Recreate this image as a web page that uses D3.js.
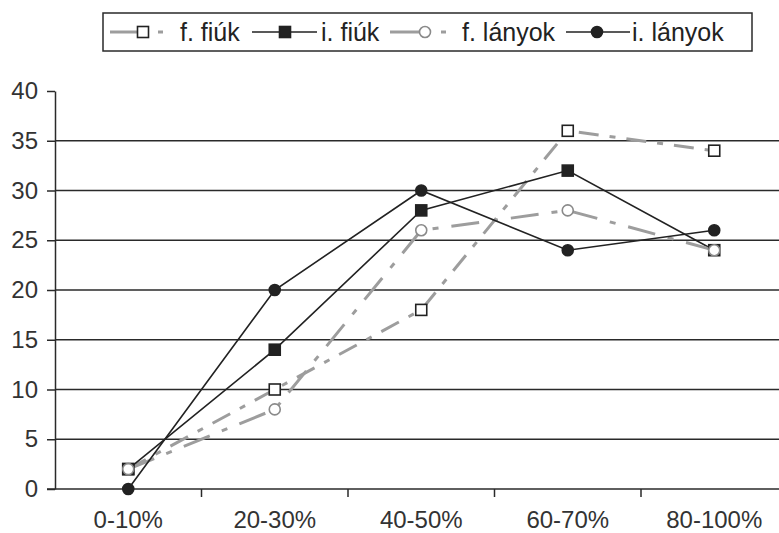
<!DOCTYPE html>
<html>
<head>
<meta charset="utf-8">
<script src="https://cdn.jsdelivr.net/npm/d3@7"></script>
<style>
  html, body { margin: 0; padding: 0; background: #fff; }
  svg { display: block; font-family: "Liberation Sans", Arial, sans-serif; }
</style>
</head>
<body>
<svg id="chart" width="779" height="533"></svg>
<script>
// Categories (score bands) and values per group
const categories = ["0-10%", "20-30%", "40-50%", "60-70%", "80-100%"];
const fFiuk    = [2, 10, 18, 36, 34];
const iFiuk    = [2, 14, 28, 32, 24];
const fLanyok  = [2, 8, 26, 28, 24];
const iLanyok  = [0, 20, 30, 24, 26];
const yTicks   = [0, 5, 10, 15, 20, 25, 30, 35, 40];
const seriesNames = ["f. fiúk", "i. fiúk", "f. lányok", "i. lányok"];

const series = [
  { name: seriesNames[0], values: fFiuk,   color: "#9d9d9d", width: 3,   dash: "20,11,6,11", marker: "square", fill: "#fff", mstroke: "#222" },
  { name: seriesNames[1], values: iFiuk,   color: "#222",    width: 1.6, dash: null,          marker: "square", fill: "#222", mstroke: "#222" },
  { name: seriesNames[2], values: fLanyok, color: "#9d9d9d", width: 3,   dash: "28,13,6,13", marker: "circle", fill: "#fff", mstroke: "#8a8a8a" },
  { name: seriesNames[3], values: iLanyok, color: "#222",    width: 1.6, dash: null,          marker: "circle", fill: "#222", mstroke: "#222" }
];

const svg = d3.select("#chart");
const plotLeft = 55, plotBottom = 489, plotTop = 91, band = 146.5;

const x = d3.scaleBand().domain(categories).range([plotLeft, plotLeft + band * categories.length]).padding(0);
const y = d3.scaleLinear().domain([0, 40]).range([plotBottom, plotTop]);

const ink = "#2a2a2a";

// Horizontal gridlines across the plot
svg.append("g").selectAll("line")
  .data(yTicks.filter(d => d > 0 && d < 40))
  .join("line")
  .attr("x1", plotLeft).attr("x2", 779)
  .attr("y1", d => y(d)).attr("y2", d => y(d))
  .attr("stroke", ink).attr("stroke-width", 1.5);

// Y axis
const yAxis = svg.append("g")
  .attr("transform", `translate(${plotLeft},0)`)
  .call(d3.axisLeft(y).tickValues(yTicks).tickSize(8).tickPadding(9).tickSizeOuter(0));
yAxis.select(".domain").attr("stroke", ink).attr("stroke-width", 1.5);
yAxis.selectAll(".tick line").attr("stroke", ink).attr("stroke-width", 1.5);
yAxis.selectAll("text").attr("font-size", 24).attr("fill", "#333")
  .attr("font-family", "'Liberation Sans', Arial, sans-serif");

// X axis: line at zero with ticks on band boundaries
svg.append("line")
  .attr("x1", plotLeft - 8).attr("x2", 779)
  .attr("y1", plotBottom).attr("y2", plotBottom)
  .attr("stroke", ink).attr("stroke-width", 1.5);
svg.append("g").selectAll("line")
  .data(categories.slice(1))
  .join("line")
  .attr("x1", d => x(d)).attr("x2", d => x(d))
  .attr("y1", plotBottom).attr("y2", plotBottom + 8)
  .attr("stroke", ink).attr("stroke-width", 1.5);
svg.append("g").selectAll("text")
  .data(categories)
  .join("text")
  .attr("x", d => x(d) + x.bandwidth() / 2)
  .attr("y", 528)
  .attr("text-anchor", "middle")
  .attr("font-size", 24)
  .attr("fill", "#333")
  .text(d => d);

// Series lines
const line = d3.line()
  .x((d, i) => x(categories[i]) + x.bandwidth() / 2)
  .y(d => y(d));

function drawMarker(g, s, cx, cy) {
  if (s.marker === "square") {
    g.append("rect")
      .attr("x", cx - 5.5).attr("y", cy - 5.5)
      .attr("width", 11).attr("height", 11)
      .attr("fill", s.fill).attr("stroke", s.mstroke).attr("stroke-width", 1.6);
  } else {
    g.append("circle")
      .attr("cx", cx).attr("cy", cy).attr("r", 5.5)
      .attr("fill", s.fill).attr("stroke", s.mstroke).attr("stroke-width", 1.6);
  }
}

series.forEach(s => {
  svg.append("path")
    .datum(s.values)
    .attr("d", line)
    .attr("fill", "none")
    .attr("stroke", s.color)
    .attr("stroke-width", s.width)
    .attr("stroke-dasharray", s.dash);
});
series.forEach(s => {
  const g = svg.append("g");
  s.values.forEach((v, i) => {
    drawMarker(g, s, x(categories[i]) + x.bandwidth() / 2, y(v));
  });
});

// Legend
const legend = svg.append("g");
legend.append("rect")
  .attr("x", 103).attr("y", 13).attr("width", 649).attr("height", 38)
  .attr("fill", "#fff").attr("stroke", ink).attr("stroke-width", 1.5);

const legendItems = [
  { s: series[0], x1: 110, x2: 165, mx: 143, tx: 180 },
  { s: series[1], x1: 252, x2: 317, mx: 285, tx: 321 },
  { s: series[2], x1: 390, x2: 448, mx: 425, tx: 462 },
  { s: series[3], x1: 566, x2: 630, mx: 597, tx: 632 }
];
const ly = 32;
legendItems.forEach(it => {
  const g = legend.append("g");
  const s = it.s;
  if (s.dash) {
    g.append("line").attr("x1", it.x1).attr("x2", it.mx).attr("y1", ly).attr("y2", ly)
      .attr("stroke", s.color).attr("stroke-width", 3);
    g.append("line").attr("x1", it.x2 - 7).attr("x2", it.x2 - 2).attr("y1", ly).attr("y2", ly)
      .attr("stroke", s.color).attr("stroke-width", 3);
  } else {
    g.append("line").attr("x1", it.x1).attr("x2", it.x2).attr("y1", ly).attr("y2", ly)
      .attr("stroke", s.color).attr("stroke-width", 1.6);
  }
  drawMarker(g, s, it.mx, ly);
  g.append("text")
    .attr("x", it.tx).attr("y", ly + 9)
    .attr("font-size", 25).attr("fill", "#222")
    .text(s.name);
});
</script>
</body>
</html>
